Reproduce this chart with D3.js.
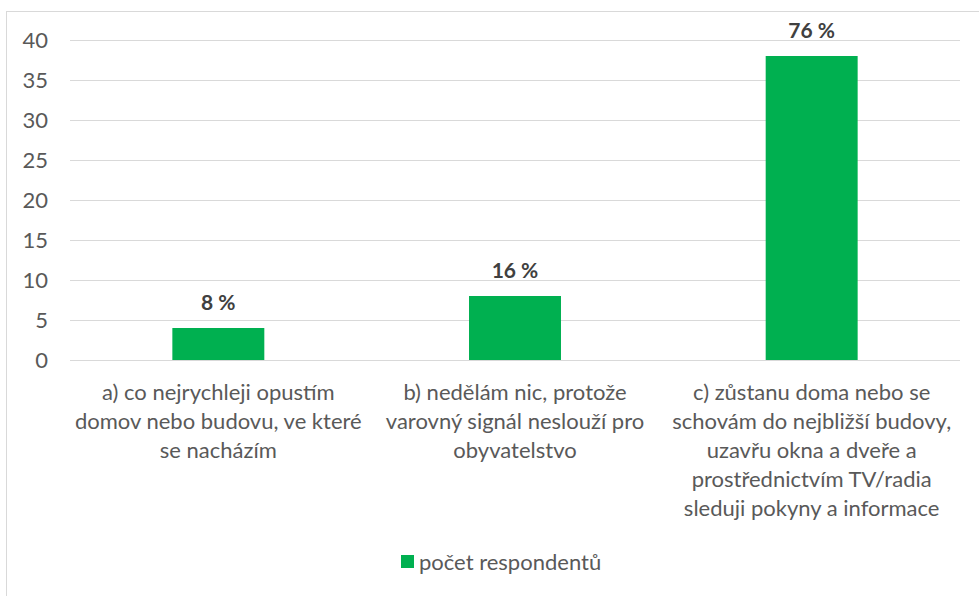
<!DOCTYPE html>
<html>
<head>
<meta charset="utf-8">
<script src="https://cdn.jsdelivr.net/npm/d3@7"></script>
<style>
  html, body { margin: 0; padding: 0; background: #fff; }
  svg { display: block; font-family: Lato, "Open Sans", sans-serif; }
</style>
</head>
<body>
<svg id="chart" width="979" height="596"></svg>
<script>
// Data
const categories = ['a', 'b', 'c'];
const categoryLines = [
  ['a) co nejrychleji opustím', 'domov nebo budovu, ve které', 'se nacházím'],
  ['b) nedělám nic, protože', 'varovný signál neslouží pro', 'obyvatelstvo'],
  ['c) zůstanu doma nebo se', 'schovám do nejbližší budovy,', 'uzavřu okna a dveře a', 'prostřednictvím TV/radia', 'sleduji pokyny a informace']
];
const counts = [4, 8, 38];
const percentLabels = ['8 %', '16 %', '76 %'];
const yTicks = [0, 5, 10, 15, 20, 25, 30, 35, 40];
const seriesName = 'počet respondentů';

const BAR = '#00b050';
const GRID = '#d9d9d9';
const TEXT = '#595959';

const svg = d3.select('#chart');

// outer chart border (runs off the right and bottom edge)
svg.append('rect')
  .attr('x', 6.5).attr('y', 11.5)
  .attr('width', 1000).attr('height', 1000)
  .attr('fill', 'none')
  .attr('stroke', GRID)
  .attr('stroke-width', 1);

const plot = { left: 70, right: 960, top: 40, bottom: 360 };

// bars are ~31% of each category slot
const x = d3.scaleBand()
  .domain(categories)
  .range([plot.left, plot.right])
  .paddingInner(0.69)
  .paddingOuter(0.345);

const y = d3.scaleLinear()
  .domain([0, 40])
  .range([plot.bottom, plot.top]);

// gridlines
svg.append('g').selectAll('line')
  .data(yTicks).join('line')
    .attr('x1', plot.left).attr('x2', plot.right)
    .attr('y1', d => Math.round(y(d)) + 0.5)
    .attr('y2', d => Math.round(y(d)) + 0.5)
    .attr('stroke', GRID)
    .attr('stroke-width', 1);

// y tick labels
svg.append('g').selectAll('text')
  .data(yTicks).join('text')
    .attr('x', 48)
    .attr('y', d => y(d))
    .attr('dy', '0.36em')
    .attr('text-anchor', 'end')
    .attr('font-size', '22px')
    .attr('fill', TEXT)
    .text(d => d);

// bars
svg.append('g').selectAll('rect')
  .data(counts).join('rect')
    .attr('x', (d, i) => x(categories[i]))
    .attr('y', d => y(d))
    .attr('width', x.bandwidth())
    .attr('height', d => y(0) - y(d))
    .attr('fill', BAR);

// value labels
svg.append('g').selectAll('text')
  .data(counts).join('text')
    .attr('x', (d, i) => x(categories[i]) + x.bandwidth() / 2)
    .attr('y', d => y(d) - 18)
    .attr('text-anchor', 'middle')
    .attr('font-size', '21px')
    .attr('font-weight', 'bold')
    .attr('fill', '#404040')
    .text((d, i) => percentLabels[i]);

// category labels
const cat = svg.append('g').selectAll('text')
  .data(categoryLines).join('text')
    .attr('text-anchor', 'middle')
    .attr('font-size', '22px')
    .attr('fill', TEXT);
cat.each(function(lines, i) {
  const cx = x(categories[i]) + x.bandwidth() / 2;
  d3.select(this).selectAll('tspan')
    .data(lines).join('tspan')
      .attr('x', cx)
      .attr('y', (l, j) => 400 + j * 29)
      .text(l => l);
});

// legend
const legend = svg.append('g');
legend.append('rect')
  .attr('x', 401).attr('y', 555)
  .attr('width', 13).attr('height', 13)
  .attr('fill', BAR);
legend.append('text')
  .attr('x', 419).attr('y', 570)
  .attr('font-size', '22px')
  .attr('fill', TEXT)
  .text(seriesName);
</script>
</body>
</html>
